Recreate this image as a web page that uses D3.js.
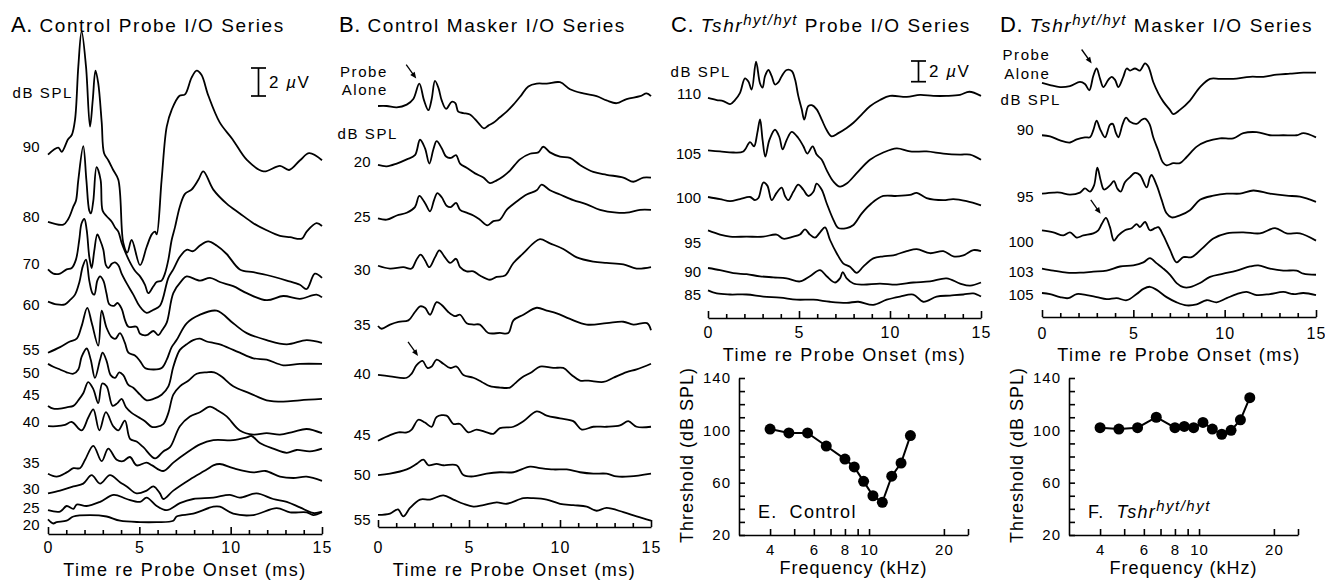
<!DOCTYPE html>
<html>
<head>
<meta charset="utf-8">
<script src="https://cdn.jsdelivr.net/npm/d3@7"></script>
<style>
  body { margin: 0; background: #fff; }
  svg text, .tick text { font-family: "Liberation Sans", Arial, sans-serif; fill: #000; }
  .tick text { letter-spacing: 1px; }
</style>
</head>
<body>
<svg id="chart" width="1325" height="580"></svg>
<script>
// ---- data: ABR waveforms, [time ms, amplitude uV] re each trace's start ----
const timeTicks = [0, 5, 10, 15];

// A. Control probe I/O series
const aLevels = ["90", "80", "70", "60", "55", "50", "45", "40", "35", "30", "25", "20"];
const aOffsets = [27.1, 22.3, 18.9, 16.6, 12.95, 12.15, 9.15, 7.7, 4.3, 2.9, 1.7, 1.05];
const aTraces = [
  [[0,0],[0.56,0.5],[0.75,0.2],[1.1,1.1],[1.3,1.4],[1.48,2.5],[1.66,6.3],[1.84,8.8],[2.08,6.3],[2.3,2.0],[2.45,3.9],[2.6,6.0],[2.75,5.1],[2.94,2.3],[3.07,0.1],[3.3,-0.4],[3.57,-1.1],[3.85,-1.8],[4.12,-6.3],[4.34,-7.0],[4.58,-6.1],[5.04,-7.9],[5.4,-6.6],[5.68,-5.7],[5.86,-5.5],[5.95,-5.7],[6.22,-1.8],[6.5,2.0],[6.77,3.2],[7.2,4.2],[7.5,4.3],[7.86,5.5],[8.14,6.0],[8.4,5.7],[8.78,4.2],[9.4,2.3],[10.1,1.1],[10.9,-0.4],[11.8,-1.2],[12.7,-0.8],[13.2,-1.1],[13.8,-0.4],[14.3,0.1],[15,-0.4]],
  [[0,0],[0.84,-0.2],[1.11,0.2],[1.39,1.1],[1.53,1.5],[1.66,3.0],[1.93,5.4],[2.1,3.0],[2.26,0.8],[2.35,0.6],[2.48,1.5],[2.66,3.9],[2.88,3.0],[2.99,0.8],[3.21,0.4],[3.49,0],[3.67,-0.4],[3.85,-0.7],[4.03,-1.5],[4.21,-2.1],[4.49,-2.9],[4.76,-3.5],[5.04,-3.9],[5.31,-4.5],[5.49,-5.1],[5.77,-4.6],[5.95,-4.3],[6.22,-4.2],[6.4,-3.7],[6.59,-2.7],[6.77,-1.3],[6.95,-0.4],[7.22,1.1],[7.5,2.0],[7.86,2.3],[8.23,3.0],[8.5,3.6],[9.05,2.3],[9.78,1.3],[10.5,0.6],[11.24,-0.1],[11.97,-0.6],[12.7,-1.0],[13.25,-1.1],[13.9,-1.2],[14.16,-0.7],[14.7,-0.1],[15,-0.3]],
  [[0,0],[0.29,-0.3],[0.66,-0.3],[1.02,0],[1.3,0.1],[1.53,0.7],[1.71,2.1],[1.84,3.3],[1.99,3.6],[2.12,2.8],[2.26,0.9],[2.39,0.1],[2.53,1.3],[2.7,2.5],[2.85,2.1],[3.03,1.4],[3.17,0.3],[3.3,0.1],[3.49,0.4],[3.67,0.5],[3.85,0.3],[4.03,-0.3],[4.31,-1.0],[4.67,-1.8],[5.0,-2.6],[5.4,-3.1],[5.75,-2.9],[6.13,-2.6],[6.59,-0.6],[6.86,0],[7.22,0.9],[7.59,1.4],[7.95,1.3],[8.32,1.7],[8.77,2.0],[9.23,1.7],[9.78,1.1],[10.5,0],[11.24,-0.2],[11.97,-0.4],[13.07,-0.8],[13.79,-1.1],[14.16,-1.4],[14.61,-0.3],[15,-0.6]],
  [[0,0],[0.47,-0.2],[0.93,-0.2],[1.2,0.1],[1.48,0.5],[1.72,1.4],[1.9,2.5],[2.08,3.0],[2.26,1.5],[2.43,0.6],[2.54,0.5],[2.7,1.5],[2.85,1.8],[3.03,1.5],[3.2,0.6],[3.36,-0.2],[3.61,-0.3],[3.8,-0.1],[4.03,-0.5],[4.21,-1.3],[4.4,-1.8],[4.85,-1.8],[5.04,-2.3],[5.4,-2.4],[5.77,-2.1],[6.04,-2.4],[6.22,-2.1],[6.5,-1.5],[6.86,0.6],[7.32,1.5],[7.59,1.8],[8.32,1.5],[8.87,1.7],[9.41,1.4],[10.14,1.1],[10.88,0.6],[11.97,0.1],[12.88,0.4],[13.79,0.2],[14.7,0.5],[15,0.3]],
  [[0,0],[0.66,0.4],[1.2,0.8],[1.57,1.0],[1.84,1.9],[2.15,3.2],[2.4,2.1],[2.75,0.5],[2.94,3.0],[3.2,1.8],[3.49,1.1],[3.7,1.0],[3.94,1.4],[4.21,0.7],[4.4,0],[4.76,-0.2],[5.04,-0.6],[5.31,-1.1],[5.77,-1.2],[6.22,-1.1],[6.5,-0.5],[6.77,0.4],[7.04,0.9],[7.59,2.1],[8.3,2.7],[9.23,3.0],[10.14,2.1],[10.88,1.4],[11.97,0.9],[13.07,0.6],[14.16,0.9],[15,0.7]],
  [[0,0],[0.29,-0.2],[0.66,-0.4],[1.02,-0.6],[1.39,-0.7],[1.66,-0.4],[1.84,0.5],[2.12,1.1],[2.34,0.3],[2.57,-1.0],[2.85,0.3],[2.99,0.8],[3.21,0.2],[3.43,-0.8],[3.67,-1.0],[3.9,-0.6],[4.12,-0.8],[4.4,-1.5],[4.67,-1.7],[5.04,-2.2],[5.4,-2.6],[5.77,-2.5],[6.22,-2.2],[6.59,-1.6],[6.86,-0.2],[7.22,1.0],[7.59,1.4],[7.95,1.7],[8.32,1.8],[8.69,1.6],[9.05,1.5],[9.41,1.4],[10.14,1.0],[10.5,0.8],[11.24,0.4],[11.97,0.3],[12.88,-0.1],[13.79,0],[15,0]],
  [[0,0],[0.29,-0.2],[0.66,-0.2],[1.02,-0.1],[1.39,0],[1.66,0.4],[1.93,0.9],[2.2,1.7],[2.48,1.2],[2.75,0.2],[2.97,1.6],[3.21,1.4],[3.54,0],[3.8,0.2],[4.03,0.5],[4.27,-0.1],[4.58,-0.5],[4.94,-0.8],[5.31,-1.1],[5.68,-1.5],[5.95,-1.5],[6.31,-1.3],[6.59,-0.5],[6.86,0.8],[7.22,1.4],[7.68,1.8],[8.14,2.3],[8.69,2.4],[9.1,2.4],[9.5,2.1],[10.14,1.4],[11.05,0.9],[11.97,0.4],[12.88,0.3],[13.79,0.4],[15,0.5]],
  [[0,0],[0.47,0],[0.93,0.1],[1.3,0.3],[1.84,-0.3],[2.2,0.6],[2.48,1.2],[2.81,-0.3],[3.17,1.0],[3.57,0],[3.85,-0.3],[4.21,0.4],[4.49,-0.9],[4.85,-1.1],[5.22,-1.5],[5.86,-2.3],[6.31,-1.8],[6.68,-1.5],[7.22,0],[7.77,0.7],[8.32,1.0],[8.87,1.4],[9.32,1.1],[9.78,0.7],[10.5,-0.3],[11.24,-0.6],[11.97,-0.5],[12.7,-0.6],[13.43,-0.4],[14.16,-0.2],[15,-0.5]],
  [[0,0],[0.47,-0.2],[1.02,0.1],[1.39,0.4],[1.75,0.4],[2.03,1.0],[2.48,2.0],[2.94,0.9],[3.3,1.8],[3.76,1.0],[4.1,0.9],[4.49,1.2],[4.85,0.6],[5.4,0.8],[5.7,0.6],[6.31,0.2],[6.86,0.8],[7.59,1.5],[8.32,2.1],[9.05,2.4],[10.14,2.4],[10.88,2.6],[11.15,2.7],[11.6,2.2],[12.33,1.8],[13.07,1.5],[13.61,1.7],[14.34,1.6],[15,1.8]],
  [[0,0],[0.66,0.2],[1.39,0.5],[1.93,0.7],[2.39,1.3],[2.85,0.7],[3.39,1.3],[3.94,0.8],[4.31,0.5],[4.85,0],[5.4,0.2],[5.77,0.5],[6.13,0],[6.31,-0.4],[6.86,0.2],[7.77,1.0],[8.69,1.7],[9.05,2.0],[9.41,2.1],[10.14,1.8],[11.24,1.5],[11.9,1.6],[12.7,1.2],[13.43,1.1],[14.16,1.2],[15,0.9]],
  [[0,0],[0.66,-0.1],[1.02,0.3],[1.39,0.1],[1.57,0.4],[2.12,0.3],[2.85,0.6],[3.6,1.1],[4.31,0.8],[5.04,0.6],[5.4,0.9],[5.95,0.3],[6.5,0],[7.22,0.5],[7.95,0.8],[9.05,0.9],[9.96,1.1],[10.5,0.9],[11.42,1.2],[12.33,0.8],[13.07,0.6],[13.79,0.2],[14.52,-0.2],[15,-0.1]],
  [[0,0],[0.29,-0.3],[0.47,-0.2],[1.02,-0.1],[1.39,0.2],[2.3,0.3],[3.21,0.2],[3.94,-0.1],[5.04,-0.2],[5.95,-0.2],[6.86,-0.1],[7.04,0.2],[7.95,0.4],[9.05,0.9],[9.41,0.9],[10.14,0.4],[11.24,0.3],[12.52,0.8],[13.25,0.5],[14.16,0.5],[14.52,0.3],[15,0.5]]
];

// B. Control masker I/O series
const bLevels = ["Probe Alone", "20", "25", "30", "35", "40", "45", "50", "55"];
const bOffsets = [30.07, 25.86, 22.05, 18.66, 14.36, 10.86, 6.16, 3.71, 0.86];
const bTraces = [
  [[0,0],[0.48,0],[1.03,-0.1],[1.58,0.1],[1.94,0.5],[2.27,1.6],[2.53,0.4],[2.77,-0.3],[2.95,0.5],[3.13,1.8],[3.32,1.3],[3.5,0.4],[3.74,-0.2],[4.05,0.3],[4.25,0.2],[4.41,-0.4],[4.69,-0.5],[5.05,-0.6],[5.51,-1.2],[5.82,-1.6],[6.06,-1.4],[6.34,-1.2],[6.7,-0.8],[7.07,-0.4],[7.44,0.1],[7.89,0.8],[8.26,1.4],[8.72,1.6],[9.27,1.6],[10,1.7],[10.55,1.2],[11.28,0.9],[12.01,0.7],[12.56,0.4],[13.11,0.2],[13.66,0.5],[14.4,0.7],[14.76,0.9],[15,0.7]],
  [[0,0],[0.48,-0.1],[1.03,0.1],[1.58,0.4],[2.03,0.7],[2.31,1.8],[2.58,1.2],[2.82,0.1],[3.04,1.1],[3.22,1.7],[3.5,1.2],[3.74,0.6],[4.0,0.5],[4.29,0.7],[4.51,0.1],[4.87,-0.2],[5.33,-0.6],[5.79,-0.9],[6.15,-1.3],[6.52,-1.1],[6.89,-0.8],[7.25,-0.4],[7.8,0.4],[8.35,0.8],[8.81,0.9],[9.08,1.3],[9.45,0.9],[10,0.6],[10.55,0.5],[11.1,0],[11.83,-0.5],[12.56,-0.7],[13.48,-0.9],[14.03,-1.2],[14.58,-0.9],[15,-0.9]],
  [[0,0],[0.48,-0.1],[1.03,0.2],[1.58,0.4],[2.03,0.8],[2.27,1.6],[2.58,1.1],[2.86,0.5],[3.08,1.3],[3.26,1.8],[3.5,1.5],[3.77,0.9],[4.0,0.8],[4.29,1.1],[4.51,0.6],[4.87,0.4],[5.24,0.2],[5.6,-0.1],[6.01,-0.5],[6.34,-0.2],[6.7,-0.1],[7.07,0.6],[7.62,1.2],[8.17,1.7],[8.72,2.0],[8.99,2.4],[9.45,2.0],[10,1.7],[10.73,1.3],[11.47,1.0],[12.2,0.6],[13.11,0.4],[13.66,0.4],[14.4,0.6],[15,0.6]],
  [[0,0],[0.66,-0.2],[1.39,-0.1],[1.85,-0.2],[2.1,0.4],[2.34,0.8],[2.58,0.4],[2.82,-0.1],[3.13,0.6],[3.37,1.1],[3.68,0.6],[3.96,0.2],[4.29,0.5],[4.51,-0.1],[4.87,-0.4],[5.24,-0.4],[5.6,-0.7],[6.15,-1.0],[6.52,-0.8],[6.98,-0.7],[7.44,0.2],[7.99,0.9],[8.53,1.6],[8.9,1.9],[9.45,1.6],[10.18,1.2],[10.92,0.6],[11.83,0.3],[12.56,0.2],[13.48,0.1],[14.21,-0.2],[15,-0.1]],
  [[0,0],[0.2,-0.2],[0.66,0.1],[1.12,0.3],[1.67,0.4],[2.03,1.0],[2.31,1.4],[2.58,1.3],[2.86,0.8],[3.22,1.7],[3.5,1.5],[3.86,1.0],[4.23,0.7],[4.51,0.8],[4.87,0.2],[5.24,0.1],[5.6,0.1],[6.06,-0.5],[6.7,-0.5],[7.16,-0.5],[7.44,0.4],[7.99,0.8],[8.72,1.3],[9.27,1.1],[9.82,0.9],[10.55,0.5],[11.47,0.1],[12.56,0.2],[13.48,0.3],[14.03,0.1],[14.78,0.2],[15,-0.3]],
  [[0,0],[0.66,-0.1],[1.58,-0.2],[1.85,0.1],[2.12,0.7],[2.45,1.0],[2.71,0.5],[2.95,0.6],[3.22,1.1],[3.59,0.8],[3.96,0.5],[4.32,0.6],[4.69,0],[5.24,-0.2],[5.7,-0.5],[6.15,-0.8],[6.7,-0.9],[7.25,-0.9],[7.53,-0.6],[7.89,-0.2],[8.44,0.2],[8.9,0.6],[9.63,0.5],[10.18,0.5],[10.64,0],[11.1,-0.4],[11.56,-0.4],[12.38,-0.5],[12.93,-0.2],[13.66,0.2],[14.21,0.4],[15,0.8]],
  [[0,0],[0.66,0.4],[1.12,0.6],[1.58,0.6],[1.85,0.8],[2.22,1.5],[2.58,1.3],[2.95,1.0],[3.22,1.7],[3.77,1.8],[4.14,1.2],[4.51,1.2],[4.96,0.6],[5.42,0.8],[5.97,0.6],[6.34,0.5],[6.7,0.9],[7.44,1.0],[7.99,1.4],[8.72,2.1],[9.27,1.8],[10,1.6],[10.73,1.4],[11.2,0.8],[11.83,1.0],[12.56,1.0],[13.3,1.1],[13.75,1.4],[14.21,1.0],[15,1.0]],
  [[0,0],[0.66,0.1],[1.58,0.4],[2.12,0.8],[2.49,1.1],[2.77,0.7],[3.22,0.8],[3.59,0.7],[4.32,0.7],[4.69,0],[5.24,-0.1],[5.97,0.1],[6.7,0.2],[7.44,0.2],[8.35,0.6],[8.9,0.5],[9.63,0.4],[10.37,0.4],[11.1,0.2],[11.83,0.1],[12.56,0.1],[13.11,-0.1],[13.85,-0.1],[15,0.1]],
  [[0,0],[0.66,0.1],[1.1,0.4],[1.39,-0.1],[1.76,0.5],[2.31,1.1],[2.86,1.1],[3.59,1.4],[4.14,1.1],[4.69,0.8],[5.24,0.6],[5.79,0.7],[6.52,0.9],[7.07,0.8],[7.99,1.2],[8.53,1.2],[9.27,1.1],[10,0.8],[10.73,0.7],[11.47,0.6],[12.01,0.3],[12.56,0.5],[13.48,0.2],[14.21,-0.1],[15,-0.4]]
];

// C. Tshr hyt/hyt probe I/O series
const cLevels = ["110", "105", "100", "95", "90", "85"];
const cOffsets = [21.26, 16.19, 11.69, 8.46, 4.83, 2.67];
const cTraces = [
  [[0,0],[0.48,-0.2],[0.84,-0.3],[1.21,-0.6],[1.48,-0.2],[1.76,0.5],[2.03,1.9],[2.22,1.6],[2.4,0.8],[2.64,3.5],[2.86,1.4],[3.0,1.0],[3.13,2.1],[3.32,2.7],[3.5,2.1],[3.68,1.3],[3.86,1.5],[4.05,2.1],[4.32,2.7],[4.6,2.6],[4.78,1.8],[4.96,0.2],[5.15,-1.1],[5.29,-2.1],[5.51,-0.8],[5.7,-0.7],[5.97,-1.1],[6.25,-2.1],[6.52,-3.1],[6.79,-3.7],[7.16,-3.4],[7.62,-2.9],[7.99,-2.4],[8.44,-1.6],[8.9,-0.8],[9.45,-0.2],[10,0.2],[10.92,0.1],[11.65,0.3],[12.38,0.2],[13.11,0.2],[13.85,0.3],[14.36,0.6],[15,0.2]],
  [[0,0],[0.66,-0.1],[1.39,-0.2],[1.94,-0.1],[2.31,0.8],[2.53,0.4],[2.71,1.7],[2.86,3.0],[3.0,1.0],[3.15,-0.6],[3.37,1.0],[3.68,2.0],[3.92,1.3],[4.1,0.1],[4.32,1.0],[4.6,1.8],[4.96,1.2],[5.24,0.4],[5.46,-0.3],[5.75,0.4],[5.97,-0.4],[6.25,-0.9],[6.52,-1.9],[6.89,-3.0],[7.25,-3.5],[7.62,-3.2],[8.17,-2.2],[8.9,-0.9],[9.63,-0.2],[10.37,0.2],[11.1,-0.1],[12.01,-0.1],[12.93,-0.3],[13.85,-0.4],[14.4,-0.4],[15,-0.9]],
  [[0,0],[0.66,-0.2],[1.21,-0.4],[1.76,-0.2],[2.31,0],[2.58,-0.3],[2.77,-0.1],[3.04,1.4],[3.26,1.1],[3.5,-0.3],[3.77,0.4],[4.05,0.9],[4.23,0.1],[4.41,-0.3],[4.69,0.5],[4.96,1.2],[5.24,0.7],[5.51,0.1],[5.79,0.5],[5.97,1.3],[6.25,0.7],[6.52,-0.6],[6.89,-2.2],[7.16,-3.0],[7.62,-3.0],[7.99,-2.7],[8.44,-1.6],[8.99,-0.6],[9.63,0.1],[10.37,0.1],[11.1,0.2],[11.47,0.4],[12.01,-0.1],[12.93,-0.3],[13.48,-0.2],[14.21,-0.4],[15,-0.8]],
  [[0,0],[0.66,-0.4],[1.21,-0.6],[2.12,-0.6],[3.04,-0.6],[3.77,-0.4],[4.14,-0.8],[4.69,-0.6],[5.05,-0.4],[5.33,0.1],[5.6,-0.4],[5.88,-0.7],[6.15,-0.2],[6.43,0.3],[6.7,-0.9],[7.07,-2.2],[7.44,-3.2],[7.8,-3.5],[8.17,-4.1],[8.53,-3.5],[9.08,-2.7],[9.63,-2.5],[10.18,-2.4],[10.92,-2.0],[11.47,-1.8],[12.2,-2.2],[12.93,-2.0],[13.48,-2.5],[14.03,-2.4],[14.58,-1.9],[15,-2.0]],
  [[0,0],[0.66,-0.2],[1.39,-0.5],[2.12,-0.6],[2.86,-0.8],[3.59,-0.9],[4.32,-1.0],[5.05,-1.3],[5.6,-0.8],[6.15,-0.2],[6.52,-0.8],[6.98,-1.4],[7.25,-1.0],[7.4,-0.4],[7.62,-1.0],[7.99,-1.5],[8.53,-1.6],[9.45,-1.5],[10.37,-1.6],[11.28,-1.4],[12.2,-1.3],[13.11,-1.0],[13.85,-1.5],[14.4,-1.7],[15,-1.4]],
  [[0,0],[0.48,-0.3],[1.21,-0.4],[2.12,-0.4],[3.04,-0.6],[3.96,-0.7],[4.87,-0.9],[5.79,-0.9],[6.7,-1.1],[7.62,-1.2],[8.26,-1.1],[9.08,-1.4],[9.82,-0.9],[10.55,-0.6],[11.28,-0.4],[11.83,-1.1],[12.56,-0.6],[13.3,-0.5],[14.03,-0.4],[14.58,-0.3],[15,-0.6]]
];

// D. Tshr hyt/hyt masker I/O series
const dLevels = ["Probe Alone", "90", "95", "100", "103", "105"];
const dOffsets = [22.61, 17.56, 11.92, 8.38, 4.68, 2.32];
const dTraces = [
  [[0,0],[0.44,-0.2],[0.99,-0.4],[1.53,-0.3],[2.08,0.1],[2.35,-0.1],[2.59,-0.7],[2.81,0.7],[2.99,1.4],[3.18,0.4],[3.36,-0.4],[3.63,0.3],[3.81,0.6],[4.0,0.3],[4.18,-0.4],[4.45,0.6],[4.64,1.4],[4.82,1.2],[5.09,1.4],[5.36,1.2],[5.64,1.9],[5.82,1.6],[6.09,0.1],[6.37,-1.0],[6.64,-1.8],[7.0,-2.6],[7.19,-3.0],[7.55,-2.6],[8.1,-1.7],[8.65,-0.4],[9.2,0.4],[9.74,0.4],[10.47,0.4],[11.39,0.6],[12.12,0.6],[12.85,0.8],[13.58,0.9],[14.31,1.0],[15,1.0]],
  [[0,0],[0.44,-0.1],[0.99,-0.5],[1.53,-0.7],[1.9,-0.4],[2.35,-0.2],[2.63,-0.2],[2.81,0.5],[2.99,1.4],[3.18,0.6],[3.45,-0.2],[3.72,1.0],[3.87,1.1],[4.05,0.2],[4.18,-0.2],[4.42,1.1],[4.6,1.7],[4.82,1.3],[5.18,1.1],[5.46,1.5],[5.64,1.6],[5.88,1.1],[6.09,-0.2],[6.37,-1.5],[6.61,-2.6],[6.82,-2.9],[7.19,-2.7],[7.55,-2.7],[7.92,-2.1],[8.47,-1.1],[9.01,-0.6],[9.74,-0.3],[10.47,-0.3],[11.02,0.2],[11.75,0.3],[12.48,0],[13.21,0],[13.94,0],[14.31,0.2],[15,-0.2]],
  [[0,0],[0.62,0.1],[0.99,0.1],[1.53,-0.1],[2.08,0.1],[2.35,0.5],[2.63,0.2],[2.85,0.8],[3.03,2.5],[3.21,1.3],[3.39,0.4],[3.72,0.8],[3.94,1.2],[4.12,0.5],[4.31,0.2],[4.54,1.1],[4.82,1.6],[5.09,2.0],[5.36,1.8],[5.73,0.6],[5.91,1.6],[6.0,1.8],[6.28,0.8],[6.55,-0.6],[6.82,-1.9],[7.1,-2.3],[7.55,-2.1],[8.1,-1.6],[8.65,-0.6],[9.38,-0.2],[10.11,0],[10.84,0],[11.57,0.3],[12.48,0],[13.39,-0.2],[14.12,-0.3],[15,-0.8]],
  [[0,0],[0.62,-0.2],[1.17,-0.5],[1.53,-0.2],[1.9,-0.7],[2.26,-0.5],[2.81,-0.3],[3.08,0],[3.27,0.6],[3.5,1.2],[3.72,0.3],[3.94,-1.0],[4.18,-0.5],[4.54,0],[4.91,0.2],[5.18,0.6],[5.36,0.3],[5.64,0.8],[5.91,0],[6.19,0.2],[6.37,0.3],[6.64,-0.5],[7.01,-1.9],[7.37,-3.1],[7.74,-2.6],[8.19,-2.6],[8.74,-1.8],[9.38,-0.8],[10.11,-0.3],[11.02,-0.2],[11.93,-0.3],[12.76,0.2],[13.39,-0.3],[14.12,-0.3],[15,-1.0]],
  [[0,0],[0.62,-0.2],[1.35,-0.4],[2.08,-0.4],[2.81,-0.3],[3.54,-0.2],[4.27,0.2],[5.0,0.3],[5.55,0.6],[5.91,1.0],[6.28,0.5],[6.64,0],[7.01,-0.6],[7.37,-1.4],[7.74,-1.8],[8.1,-1.8],[8.65,-1.4],[9.2,-0.8],[9.93,-0.5],[10.66,-0.2],[11.39,0.2],[11.84,0.3],[12.48,0],[13.21,-0.2],[13.94,-0.2],[14.31,-0.5],[15,-0.6]],
  [[0,0],[0.44,-0.1],[0.99,-0.4],[1.44,-0.5],[1.9,-0.1],[2.45,-0.2],[3.0,-0.4],[3.54,-0.6],[4.09,-0.5],[4.64,-0.7],[5.18,-0.1],[5.55,0.4],[5.91,0.6],[6.28,0.3],[6.82,-0.4],[7.37,-0.9],[7.92,-1.2],[8.47,-1.1],[9.01,-0.7],[9.56,-0.9],[10.11,-0.5],[10.66,-0.1],[11.2,0.1],[11.75,-0.2],[12.48,-0.1],[13.21,0.1],[13.76,-0.1],[14.31,0],[15,-0.2]]
];

// E / F. Masker threshold tuning curves
const freqE = [4, 4.76, 5.66, 6.73, 8, 8.72, 9.51, 10.37, 11.31, 12.34, 13.45, 14.67];
const threshE = [101, 98, 98, 88, 78, 72, 61, 50, 45, 65, 75, 96];
const freqF = [4, 4.76, 5.66, 6.73, 8, 8.72, 9.51, 10.37, 11.31, 12.34, 13.45, 14.67, 16];
const threshF = [102, 101, 102, 110, 102, 103, 102, 106, 101, 97, 100, 108, 125];
const freqTicks = [4, 5, 6, 7, 8, 9, 10, 20, 25];
const freqLabels = [4, 6, 8, 10, 20];
const threshTicks = [20, 30, 40, 50, 60, 70, 80, 90, 100, 110, 120, 130, 140];
const threshLabels = [20, 60, 100, 140];

// ---- drawing ----
const svg = d3.select("#chart");
const FONT = "'Liberation Sans', Arial, sans-serif";

// panel heading: big letter, then text parts (italic / superscript)
function title(x, y, letter, parts) {
  const t = svg.append("text").attr("x", x).attr("y", y)
    .attr("font-size", 19).attr("letter-spacing", 1.6);
  t.append("tspan").attr("font-size", 22).attr("letter-spacing", 0.5).text(letter + " ");
  parts.forEach(p => {
    const s = t.append("tspan").text(p.t);
    if (p.it) s.attr("font-style", "italic");
    if (p.sup) s.attr("font-size", 15).attr("letter-spacing", 1.5).attr("dy", -7);
    if (p.down) s.attr("dy", 7);
  });
}

function label(x, y, txt, ls) {
  return svg.append("text").attr("x", x).attr("y", y).attr("dy", "0.35em")
    .attr("font-size", 15).attr("letter-spacing", ls || 0)
    .attr("text-anchor", "end").text(txt);
}

function arrow(x1, y1, x2, y2) {
  const a = Math.atan2(y2 - y1, x2 - x1), L = 7, w = 0.4;
  svg.append("line").attr("x1", x1).attr("y1", y1)
    .attr("x2", x2 - Math.cos(a) * 4).attr("y2", y2 - Math.sin(a) * 4)
    .attr("stroke", "#000").attr("stroke-width", 1.3);
  svg.append("path").attr("fill", "#000").attr("d",
    `M${x2},${y2}L${x2 - L * Math.cos(a - w)},${y2 - L * Math.sin(a - w)}` +
    `L${x2 - L * Math.cos(a + w)},${y2 - L * Math.sin(a + w)}Z`);
}

function tracePanel(p) {
  const x = d3.scaleLinear().domain([0, 15]).range([p.x0, p.x1]);
  const y = d3.scaleLinear().domain([0, 1]).range([p.axisY, p.axisY - p.k]);
  const g = svg.append("g");
  const line = d3.line().x(d => x(d[0])).curve(d3.curveCatmullRom.alpha(0.5));

  g.selectAll("path.trace")
    .data(p.traces)
    .enter()
    .append("path")
    .attr("class", "trace")
    .attr("fill", "none")
    .attr("stroke", "#000")
    .attr("stroke-width", 1.8)
    .attr("stroke-linejoin", "round")
    .attr("d", (tr, i) => line.y(d => y(p.offsets[i] + d[1]))(tr));

  const ax = d3.axisBottom(x)
    .tickValues(d3.range(0, 16))
    .tickSize(-4)
    .tickSizeOuter(0)
    .tickPadding(p.pad)
    .tickFormat(d => (timeTicks.includes(d) ? d : ""));
  const ga = g.append("g").attr("transform", `translate(0,${p.axisY})`).call(ax);
  ga.attr("font-family", FONT).attr("font-size", 16);
  ga.select(".domain").attr("stroke-width", 1.6);
  ga.selectAll(".tick line").attr("stroke-width", 1.6);
  ga.selectAll(".tick line").filter(d => timeTicks.includes(d)).attr("y2", -7);

  svg.append("text")
    .attr("x", (p.x0 + p.x1) / 2).attr("y", p.titleY).attr("dy", "0.35em")
    .attr("text-anchor", "middle").attr("font-size", 18).attr("letter-spacing", 1.5)
    .text("Time re Probe Onset (ms)");

  return { x, y };
}

function scaleBar(s, xPos, yBottom, tx) {
  const h = s.y(0) - s.y(2);
  const bar = svg.append("g").attr("stroke", "#000").attr("stroke-width", 1.7);
  bar.append("line").attr("x1", xPos).attr("x2", xPos).attr("y1", yBottom).attr("y2", yBottom - h);
  bar.append("line").attr("x1", xPos - 7.5).attr("x2", xPos + 7.5).attr("y1", yBottom).attr("y2", yBottom);
  bar.append("line").attr("x1", xPos - 7.5).attr("x2", xPos + 7.5).attr("y1", yBottom - h).attr("y2", yBottom - h);
  const t = svg.append("text").attr("x", tx).attr("y", yBottom - h / 2).attr("dy", "0.35em")
    .attr("font-size", 17).attr("letter-spacing", 1.5);
  t.append("tspan").text("2 ");
  t.append("tspan").attr("font-style", "italic").text("\u00b5");
  t.append("tspan").text("V");
}

// Panel A
const sA = tracePanel({ x0: 48, x1: 322, axisY: 534, k: 14, pad: 8, titleY: 570,
  traces: aTraces, offsets: aOffsets });
title(11, 32, "A.", [{ t: "Control Probe I/O Series" }]);
label(73, 93, "dB SPL", 1.6);
const aLabelY = [146.7, 217, 264, 305, 350, 372.7, 395, 421.7, 462.7, 489, 507.7, 525];
aLevels.forEach((l, i) => label(39.5, aLabelY[i], l));
scaleBar(sA, 258.5, 96, 269);

// Panel B
const sB = tracePanel({ x0: 378, x1: 651, axisY: 527, k: 14, pad: 15, titleY: 570,
  traces: bTraces, offsets: bOffsets });
title(339, 32, "B.", [{ t: "Control Masker I/O Series" }]);
label(388, 71.7, "Probe", 1.6);
label(388, 90, "Alone", 1.6);
label(398, 133.3, "dB SPL", 1.6);
const bLabelY = [0, 161.7, 216.7, 270, 325, 373.3, 435, 475, 520];
bLevels.forEach((l, i) => { if (i > 0) label(370.5, bLabelY[i], l); });
arrow(sB.x(1.55), sB.y(bOffsets[0] + 1.6) - 19, sB.x(2.1), sB.y(bOffsets[0] + 1.6) - 5);
arrow(sB.x(1.65), sB.y(bOffsets[5] + 1.0) - 19, sB.x(2.2), sB.y(bOffsets[5] + 1.0) - 5);

// Panel C
const sC = tracePanel({ x0: 708, x1: 981, axisY: 318, k: 10.35, pad: 9, titleY: 355,
  traces: cTraces, offsets: cOffsets });
title(671, 32, "C.", [{ t: "Tshr", it: true }, { t: "hyt/hyt", it: true, sup: true }, { t: " Probe I/O Series", down: true }]);
label(731, 71.7, "dB SPL", 1.6);
const cLabelY = [93.3, 153.3, 197.3, 242.3, 271.7, 295];
cLevels.forEach((l, i) => label(701, cLabelY[i], l));
scaleBar(sC, 918.5, 81.7, 929);

// Panel D
const sD = tracePanel({ x0: 1042, x1: 1316, axisY: 317, k: 10.35, pad: 11, titleY: 355,
  traces: dTraces, offsets: dOffsets });
title(1000, 32, "D.", [{ t: "Tshr", it: true }, { t: "hyt/hyt", it: true, sup: true }, { t: " Masker I/O Series", down: true }]);
label(1050.5, 55, "Probe", 1.6);
label(1050.5, 73.3, "Alone", 1.6);
label(1061, 100, "dB SPL", 1.6);
const dLabelY = [0, 130, 196.7, 241.7, 271.7, 295];
dLevels.forEach((l, i) => { if (i > 0) label(1033.5, dLabelY[i], l); });
arrow(sD.x(2.17), sD.y(dOffsets[0] + 1.4) - 19, sD.x(2.72), sD.y(dOffsets[0] + 1.4) - 5);
arrow(sD.x(2.67), sD.y(dOffsets[3] + 1.2) - 18, sD.x(3.21), sD.y(dOffsets[3] + 1.2) - 4);

// Panels E and F: threshold tuning curves
function tuningPanel(x0, freqs, thresh, tag) {
  const x = d3.scaleLog().domain([3, 25]).range([x0, x0 + 229]);
  const y = d3.scaleLinear().domain([20, 140]).range([535, 378]);
  const g = svg.append("g");

  const gx = g.append("g").attr("transform", "translate(0,535)")
    .call(d3.axisBottom(x).tickValues(freqTicks).tickSize(-6).tickSizeOuter(0).tickPadding(9)
      .tickFormat(d => (freqLabels.includes(d) ? d : "")));
  const gy = g.append("g").attr("transform", `translate(${x0},0)`)
    .call(d3.axisLeft(y).tickValues(threshTicks).tickSize(-6).tickSizeOuter(0).tickPadding(8)
      .tickFormat(d => (threshLabels.includes(d) ? d : "")));
  [gx, gy].forEach(a => {
    a.attr("font-family", FONT).attr("font-size", 15);
    a.select(".domain").attr("stroke-width", 1.6);
    a.selectAll(".tick line").attr("stroke-width", 1.6);
  });

  const pts = freqs.map((f, i) => [f, thresh[i]]);
  g.append("path").datum(pts)
    .attr("fill", "none").attr("stroke", "#000").attr("stroke-width", 2)
    .attr("d", d3.line().x(d => x(d[0])).y(d => y(d[1])));
  g.selectAll("circle").data(pts).enter().append("circle")
    .attr("cx", d => x(d[0])).attr("cy", d => y(d[1])).attr("r", 5.5).attr("fill", "#000");

  svg.append("text").attr("x", x0 + 114.5).attr("y", 568).attr("dy", "0.35em")
    .attr("text-anchor", "middle").attr("font-size", 18).attr("letter-spacing", 1)
    .text("Frequency (kHz)");
  svg.append("text").attr("transform", `translate(${x0 - 52},455) rotate(-90)`)
    .attr("dy", "0.35em").attr("text-anchor", "middle").attr("font-size", 18)
    .attr("letter-spacing", 1).text("Threshold (dB SPL)");

  const t = svg.append("text").attr("x", x0 + 19).attr("y", 511.7).attr("dy", "0.35em")
    .attr("font-size", 18).attr("letter-spacing", 1.3);
  t.append("tspan").text(tag.letter);
  const rest = t.append("tspan").attr("dx", 12);
  if (tag.italic) {
    rest.attr("font-style", "italic").text(tag.name);
    t.append("tspan").attr("font-style", "italic").attr("font-size", 15)
      .attr("letter-spacing", 1.5).attr("dy", -7).text(tag.sup);
  } else {
    rest.text(tag.name);
  }
}

tuningPanel(739, freqE, threshE, { letter: "E.", name: "Control" });
tuningPanel(1069, freqF, threshF, { letter: "F.", name: "Tshr", sup: "hyt/hyt", italic: true });
</script>
</body>
</html>
